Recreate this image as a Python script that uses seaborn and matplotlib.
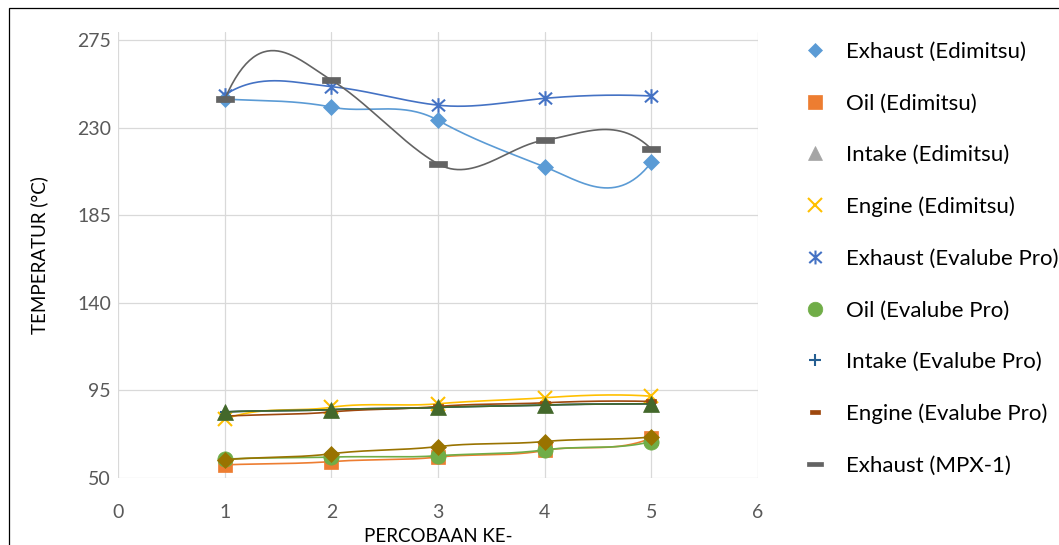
import numpy as np
import pandas as pd
import matplotlib
matplotlib.use("Agg")
import matplotlib.pyplot as plt
from matplotlib.path import Path
from matplotlib.lines import Line2D
from matplotlib.patches import Rectangle
import seaborn as sns

# ---- data -------------------------------------------------------------
trial = [1, 2, 3, 4, 5]

exhaust_edimitsu = [244.6, 240.5, 233.7, 209.8, 212.1]
oil_edimitsu = [56.6, 58.3, 60.6, 64.0, 70.4]
intake_edimitsu = [83.8, 85.0, 86.1, 87.3, 88.0]
engine_edimitsu = [80.0, 86.2, 88.0, 91.1, 91.9]

exhaust_evalube = [246.7, 251.0, 241.5, 245.0, 246.2]
oil_evalube = [59.5, 60.6, 61.3, 64.3, 68.6]
intake_evalube = [83.8, 85.0, 86.1, 87.3, 88.0]
engine_evalube = [81.6, 83.8, 86.6, 88.5, 89.2]

exhaust_mpx = [244.5, 254.4, 211.3, 223.5, 219.0]
oil_mpx = [59.2, 62.3, 66.0, 68.6, 70.9]
engine_mpx = [83.8, 85.0, 86.1, 87.3, 88.0]

y_ticks = [50, 95, 140, 185, 230, 275]
x_ticks = [0, 1, 2, 3, 4, 5, 6]

# ---- marker shapes ----------------------------------------------------
M, L, C = Path.MOVETO, Path.LINETO, Path.CLOSEPOLY
asterisk = Path([(0, -1), (0, 1), (-0.9, -0.8), (0.9, 0.8), (-0.9, 0.8), (0.9, -0.8)],
                [M, L, M, L, M, L])
long_dash = Path([(-1, -0.3), (1, -0.3), (1, 0.3), (-1, 0.3), (-1, -0.3)],
                 [M, L, L, L, C])
short_dash = Path([(-1, -0.5), (1, -0.5), (1, 0.5), (-1, 0.5), (-1, -0.5)],
                  [M, L, L, L, C])

# name, values, colour, marker, plot size, legend size, edge width, shown in legend
series = [
    ("Exhaust (Edimitsu)", exhaust_edimitsu, "#5B9BD5", "D", 7.8, 7.0, 0, True),
    ("Oil (Edimitsu)", oil_edimitsu, "#ED7D31", "s", 10.5, 10.0, 0, True),
    ("Intake (Edimitsu)", intake_edimitsu, "#A5A5A5", "^", 10.5, 10.0, 0, True),
    ("Engine (Edimitsu)", engine_edimitsu, "#FFC000", "x", 10.5, 10.0, 1.5, True),
    ("Exhaust (Evalube Pro)", exhaust_evalube, "#4472C4", asterisk, 10.5, 10.0, 1.5, True),
    ("Oil (Evalube Pro)", oil_evalube, "#70AD47", "o", 11.0, 10.5, 0, True),
    ("Intake (Evalube Pro)", intake_evalube, "#255E91", "+", 7.0, 9.0, 1.5, True),
    ("Engine (Evalube Pro)", engine_evalube, "#9E480E", short_dash, 6.5, 6.5, 0, True),
    ("Exhaust (MPX-1)", exhaust_mpx, "#636363", long_dash, 13.0, 11.0, 0, True),
    ("Oil (MPX-1)", oil_mpx, "#997300", "D", 7.8, 7.0, 0, False),
    ("Engine (MPX-1)", engine_mpx, "#43682B", "^", 11.5, 10.0, 0, False),
]


def smooth_curve(x, y, n=60):
    """Piecewise cubic Hermite curve through every point, in the style of a
    spreadsheet 'smoothed line' (strong tangents, loose ends)."""
    x = np.asarray(x, float)
    y = np.asarray(y, float)
    k = len(x)
    h = np.diff(x)
    chord = np.diff(y) / h
    m = np.empty(k)
    m[1:-1] = 2.0 * (y[2:] - y[:-2]) / (x[2:] - x[:-2])
    m[0] = 2.0 * (3.0 * chord[0] - m[1])
    m[-1] = 2.5 * (3.0 * chord[-1] - m[-2])
    xs, ys = [], []
    for i in range(k - 1):
        t = np.linspace(0, 1, n, endpoint=(i == k - 2))
        h00 = 2 * t**3 - 3 * t**2 + 1
        h10 = t**3 - 2 * t**2 + t
        h01 = -2 * t**3 + 3 * t**2
        h11 = t**3 - t**2
        xs.append(x[i] + t * h[i])
        ys.append(h00 * y[i] + h10 * h[i] * m[i] + h01 * y[i + 1] + h11 * h[i] * m[i + 1])
    return np.concatenate(xs), np.concatenate(ys)


# ---- style ------------------------------------------------------------
sns.set_theme(style="white")
plt.rcParams["font.family"] = ["Lato", "DejaVu Sans"]

W, H = 1059, 545
fig = plt.figure(figsize=(W / 100, H / 100), dpi=100)
fig.patch.set_facecolor("white")

# plot area in pixels: x 118..758, y 32..478
ax = fig.add_axes([118 / W, (H - 477.7) / H, 640 / W, 445.5 / H])
ax.set_xlim(0, 6)
ax.set_ylim(50, 279)

for i, (name, vals, col, mk, ms, lms, mew, _) in enumerate(series):
    cx, cy = smooth_curve(trial, vals)
    curve = pd.DataFrame({"PERCOBAAN KE-": cx, "T": cy})
    sns.lineplot(data=curve, x="PERCOBAAN KE-", y="T", ax=ax, color=col,
                 linewidth=1.2, sort=False, estimator=None, zorder=3 + 2 * i)
    ax.plot(trial, vals, linestyle="none", marker=mk, markersize=ms,
            color=col, markeredgecolor=col, markerfacecolor=col,
            markeredgewidth=mew if mew else 0.5, zorder=4 + 2 * i)

ax.set_xticks(x_ticks)
ax.set_yticks(y_ticks)
ax.grid(True, color="#D9D9D9", linewidth=0.9)
ax.set_axisbelow(True)
for s in ax.spines.values():
    s.set_visible(False)
ax.tick_params(axis="both", length=0, labelsize=14, labelcolor="#595959")
ax.tick_params(axis="y", pad=5)
ax.tick_params(axis="x", pad=19)
ax.set_xlabel("PERCOBAAN KE-", fontsize=13.5, color="black", labelpad=5)
ax.set_ylabel("TEMPERATUR (°C)", fontsize=13.5, color="black", labelpad=21)

# legend (first nine series)
handles, labels = [], []
for name, vals, col, mk, ms, lms, mew, show in series:
    if not show:
        continue
    handles.append(Line2D([], [], linestyle="none", marker=mk, markersize=lms,
                          color=col, markerfacecolor=col, markeredgecolor=col,
                          markeredgewidth=mew if mew else 0.5))
    labels.append(name)
fig.legend(handles, labels, loc="upper left",
           bbox_to_anchor=(804 / W, 1 - 42 / H), frameon=False,
           fontsize=16, handlelength=1.0, handletextpad=0.9,
           labelspacing=1.42, borderpad=0, borderaxespad=0,
           labelcolor="black")

# chart border
fig.add_artist(Rectangle((8.5 / W, -0.1), 1.2, 1.1 - 7.5 / H,
                         transform=fig.transFigure, fill=False,
                         edgecolor="black", linewidth=0.9))

fig.savefig("out.png", dpi=100)
